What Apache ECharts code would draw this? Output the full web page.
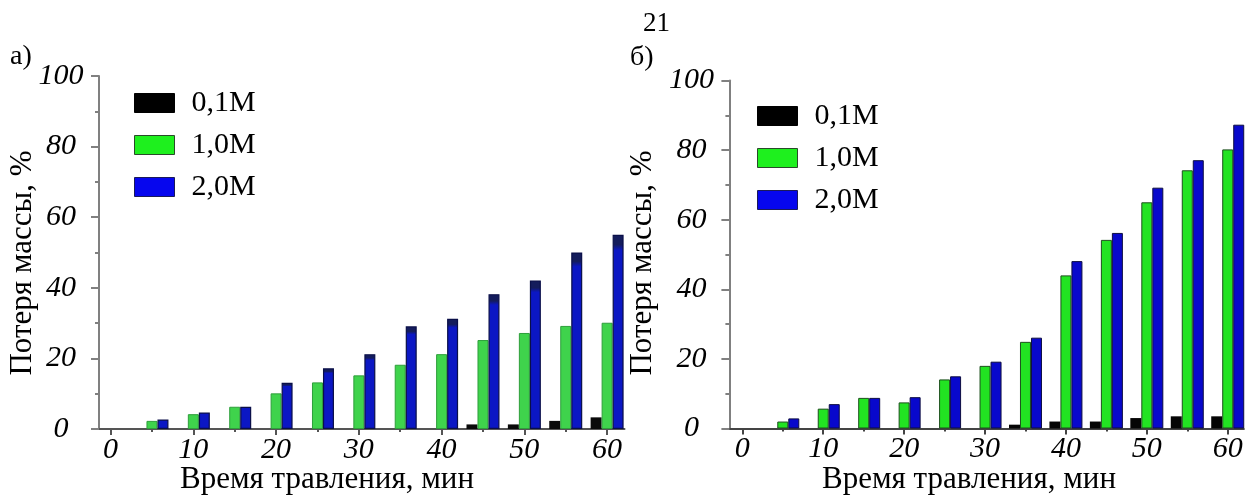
<!DOCTYPE html>
<html>
<head>
<meta charset="utf-8">
<script src="https://cdn.jsdelivr.net/npm/echarts@6/dist/echarts.min.js"></script>
<style>
  html, body { margin: 0; padding: 0; background: #fff; }
  #chart { width: 1248px; height: 499px; }
</style>
</head>
<body>
<div id="chart"></div>
<script>
// Etching time, minutes (one group of bars per value)
const times = [5, 10, 15, 20, 25, 30, 35, 40, 45, 50, 55, 60];
const timeTicks = [0, 10, 20, 30, 40, 50, 60];
const timeMinorTicks = [5, 15, 25, 35, 45, 55];
const lossMinorTicks = [10, 30, 50, 70, 90];

// Panel а) — mass loss, %
const lossA_01M = [0, 0, 0, 0, 0, 0, 0, 0, 1.3, 1.3, 2.3, 3.3];
const lossA_10M = [2.3, 4.2, 6.3, 10.1, 13.2, 15.2, 18.2, 21.2, 25.2, 27.2, 29.2, 30.1];
const lossA_20M = [2.7, 4.7, 6.3, 13.1, 17.2, 21.2, 29.1, 31.2, 38.2, 42.1, 50.0, 55.0];

// Panel б) — mass loss, %
const lossB_01M = [0, 0, 0, 0, 0, 0, 1.1, 2.0, 2.0, 3.0, 3.5, 3.5];
const lossB_10M = [2.0, 5.7, 8.8, 7.5, 14.1, 18.0, 24.9, 44.0, 54.2, 65.0, 74.2, 80.2];
const lossB_20M = [2.9, 7.0, 8.8, 9.0, 15.0, 19.2, 26.1, 48.1, 56.2, 69.2, 77.1, 87.3];

const seriesNames = ['0,1M', '1,0M', '2,0M'];

const SERIF = "'Liberation Serif', 'DejaVu Serif', serif";
const pairs = vals => times.map((t, i) => [t, vals[i]]);

function xAxes(gridIndex, min, max, lineColor) {
  return [
    {
      type: 'value', gridIndex, min, max, position: 'bottom',
      splitLine: { show: false },
      axisLine: { show: true, onZero: false, lineStyle: { color: lineColor, width: 2 } },
      axisTick: { show: true, customValues: timeTicks, length: 6, lineStyle: { color: lineColor, width: 2 } },
      axisLabel: {
        show: true, customValues: timeTicks, margin: 6,
        fontFamily: SERIF, fontStyle: 'italic', fontSize: 30, color: '#000'
      }
    },
    {
      // short ticks at the half-decades
      type: 'value', gridIndex, min, max, position: 'bottom',
      splitLine: { show: false },
      axisLine: { show: false, onZero: false },
      axisTick: { show: true, customValues: timeMinorTicks, length: 3, lineStyle: { color: lineColor, width: 2 } },
      axisLabel: { show: false }
    }
  ];
}

function yAxes(gridIndex, lineColor) {
  return [
    {
      type: 'value', gridIndex, min: 0, max: 100, interval: 20, position: 'left',
      splitLine: { show: false },
      axisLine: { show: true, onZero: false, lineStyle: { color: lineColor, width: 2 } },
      axisTick: { show: true, length: 8, lineStyle: { color: lineColor, width: 2 } },
      axisLabel: {
        margin: 38, align: 'center',
        fontFamily: SERIF, fontStyle: 'italic', fontSize: 30, color: '#000'
      }
    },
    {
      // short ticks between the labelled ones
      type: 'value', gridIndex, min: 0, max: 100, position: 'left',
      splitLine: { show: false },
      axisLine: { show: false, onZero: false },
      axisTick: { show: true, customValues: lossMinorTicks, length: 4, lineStyle: { color: lineColor, width: 2 } },
      axisLabel: { show: false }
    }
  ];
}

const blueCap = (top, body) => ({
  type: 'linear', x: 0, y: 0, x2: 0, y2: 1,
  colorStops: [
    { offset: 0, color: top },
    { offset: 0.05, color: top },
    { offset: 0.08, color: body },
    { offset: 1, color: body }
  ]
});

function bars(xAxisIndex, yAxisIndex, data, styles) {
  return data.map((vals, k) => ({
    name: seriesNames[k],
    type: 'bar',
    xAxisIndex, yAxisIndex,
    barWidth: 11,
    barGap: '0%',
    data: pairs(vals),
    itemStyle: styles[k],
    emphasis: { disabled: true }
  }));
}

const stylesA = [
  { color: '#0a0a0a' },
  { color: '#3fd34c', borderColor: '#2e9e3b', borderWidth: 1 },
  { color: blueCap('#141c5c', '#0b17c4'), borderColor: '#0a0f48', borderWidth: 1.2 }
];
const stylesB = [
  { color: '#050505' },
  { color: '#22e322', borderColor: '#1d4f1d', borderWidth: 1 },
  { color: '#0808cc', borderColor: '#0d0d40', borderWidth: 1 }
];

const legendItems = [
  { name: '0,1M', itemStyle: { color: '#000', borderColor: '#000', borderWidth: 1 } },
  { name: '1,0M', itemStyle: { color: '#1ef01e', borderColor: '#2a4a2a', borderWidth: 1 } },
  { name: '2,0M', itemStyle: { color: '#0606ee', borderColor: '#1a1a5a', borderWidth: 1 } }
];

function legend(left, top, gap) {
  return {
    orient: 'vertical', left, top, padding: 0,
    itemWidth: 40, itemHeight: 19, itemGap: gap,
    icon: 'rect',
    selectedMode: false,
    data: legendItems,
    textStyle: { fontFamily: SERIF, fontSize: 30, color: '#000', padding: [0, 0, 0, 12] }
  };
}

function label(text, x, y, size) {
  return {
    type: 'text', x, y,
    style: { text, fontFamily: SERIF, fontSize: size, fill: '#000', align: 'left', verticalAlign: 'middle' }
  };
}

function title(text, x, y, rotation) {
  return {
    type: 'text', x, y, rotation: rotation || 0,
    style: { text, fontFamily: SERIF, fontSize: 31, fill: '#000', align: 'center', verticalAlign: 'middle' }
  };
}

const option = {
  backgroundColor: '#fff',
  animation: false,
  grid: [
    { left: 99, top: 76, width: 525.5, height: 353 },
    { left: 729.4, top: 80.5, width: 514.5, height: 348 }
  ],
  xAxis: [].concat(xAxes(0, -1.4, 62.1, '#555'), xAxes(1, -1.6, 62.0, '#444')),
  yAxis: [].concat(yAxes(0, '#808080'), yAxes(1, '#808080')),
  legend: [legend(134, 88, 12), legend(757, 101, 12)],
  series: [].concat(
    bars(0, 0, [lossA_01M, lossA_10M, lossA_20M], stylesA),
    bars(2, 2, [lossB_01M, lossB_10M, lossB_20M], stylesB)
  ),
  graphic: [
    label('а)', 10, 57, 28),
    label('б)', 630, 58, 28),
    label('21', 643, 24, 27),
    title('Время травления, мин', 327, 480),
    title('Время травления, мин', 969, 480),
    title('Потеря массы, %', 23, 263, Math.PI / 2),
    title('Потеря массы, %', 643, 263, Math.PI / 2)
  ]
};

const chart = echarts.init(document.getElementById('chart'), null, { renderer: 'canvas' });
chart.setOption(option);
</script>
</body>
</html>
